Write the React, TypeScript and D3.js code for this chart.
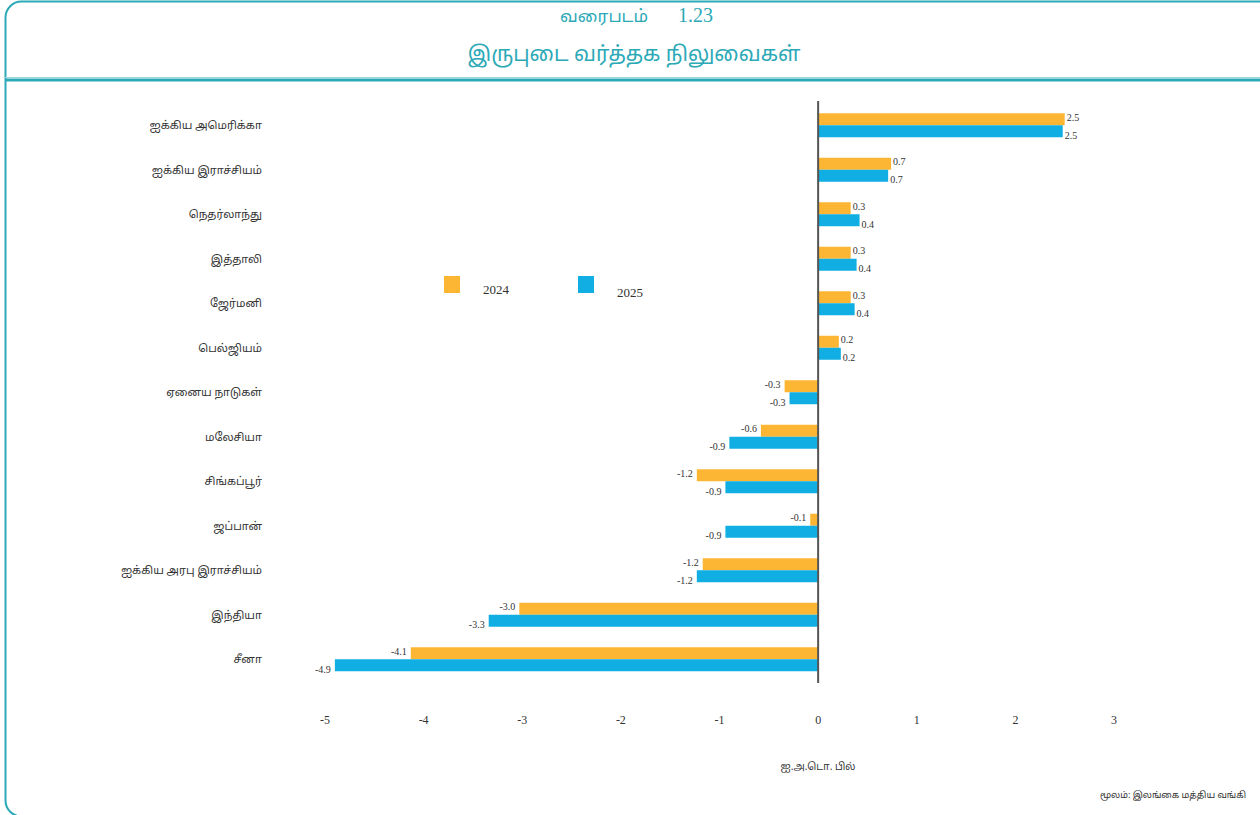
import React from "react";
import * as d3 from "d3";

const categories = [
  "ஐக்கிய அமெரிக்கா",
  "ஐக்கிய இராச்சியம்",
  "நெதர்லாந்து",
  "இத்தாலி",
  "ஜேர்மனி",
  "பெல்ஜியம்",
  "ஏனைய நாடுகள்",
  "மலேசியா",
  "சிங்கப்பூர்",
  "ஜப்பான்",
  "ஐக்கிய அரபு இராச்சியம்",
  "இந்தியா",
  "சீனா",
];
const values2024 = [2.5, 0.74, 0.33, 0.33, 0.33, 0.21, -0.34, -0.58, -1.23, -0.08, -1.17, -3.03, -4.13];
const values2025 = [2.48, 0.71, 0.42, 0.39, 0.37, 0.23, -0.29, -0.9, -0.94, -0.94, -1.23, -3.34, -4.9];
const seriesNames = ["2024", "2025"];
const seriesColors = ["#FDB633", "#10AEE3"];
const xTicks = [-5, -4, -3, -2, -1, 0, 1, 2, 3];

const TEAL = "#2CA9B7";
const SERIF = "'Liberation Serif', 'DejaVu Serif', serif";
const TAMIL = "'Noto Sans Tamil', 'Lohit Tamil', 'Noto Serif Tamil', 'Noto Sans', sans-serif";

export default function App() {
  const W = 1260, H = 815;
  const x = d3.scaleLinear().domain([-5, 3]).range([325, 1114]);
  const y = d3.scaleBand<string>().domain(categories).range([103, 681.5]).padding(0);
  const inner = d3.scaleBand<string>().domain(seriesNames).range([y.bandwidth() / 2 - 12, y.bandwidth() / 2 + 12]);
  const series = [values2024, values2025];
  const fmt = (v: number) => d3.format(".1f")(v).replace("\u2212", "-");

  return (
    <svg
      width={W}
      height={H}
      style={{ position: "absolute", left: 0, top: 0, display: "block", background: "#fff" }}
    >
      {/* frame */}
      <rect x={5.5} y={1.5} width={W + 40} height={815} rx={16} ry={16} fill="none" stroke={TEAL} strokeWidth={2} />
      <line x1={5} x2={W} y1={80} y2={80} stroke={TEAL} strokeWidth={3} />
      <line x1={5} x2={W} y1={77.5} y2={77.5} stroke="#9fd6dd" strokeWidth={1} />
      {/* titles */}
      <text x={648} y={22} textAnchor="end" fill={TEAL} fontFamily={TAMIL} fontSize={17}>
        வரைபடம்
      </text>
      <text x={678} y={22} textAnchor="start" fill={TEAL} fontFamily={SERIF} fontSize={20}>
        1.23
      </text>
      <text x={634} y={61} textAnchor="middle" fill={TEAL} fontFamily={TAMIL} fontSize={21}>
        இருபுடை வர்த்தக நிலுவைகள்
      </text>

      {/* bars */}
      {categories.map((c, i) => (
        <g key={c}>
          {series.map((vals, s) => {
            const v = vals[i];
            const y0 = (y(c) as number) + (inner(seriesNames[s]) as number);
            const h = inner.bandwidth();
            const x0 = Math.min(x(0), x(v));
            const w = Math.abs(x(v) - x(0));
            const ly = s === 0 ? y0 + h / 2 - 2 : y0 + h / 2 + 4;
            return (
              <g key={s}>
                <rect x={x0} y={y0} width={w} height={h} fill={seriesColors[s]} />
                <text
                  x={v >= 0 ? x(v) + 2 : x(v) - 4}
                  y={ly}
                  dy="0.35em"
                  textAnchor={v >= 0 ? "start" : "end"}
                  fontFamily={SERIF}
                  fontSize={10}
                  fill="#333"
                >
                  {fmt(v)}
                </text>
              </g>
            );
          })}
          <text
            x={262}
            y={(y(c) as number) + y.bandwidth() / 2}
            dy="0.35em"
            textAnchor="end"
            fontFamily={TAMIL}
            fontSize={11}
            fill="#333"
          >
            {c}
          </text>
        </g>
      ))}

      {/* zero line */}
      <line x1={x(0)} x2={x(0)} y1={101} y2={683} stroke="#555" strokeWidth={2} />

      {/* x tick labels */}
      {xTicks.map((t) => (
        <text key={t} x={x(t)} y={720} dy="0.35em" textAnchor="middle" fontFamily={SERIF} fontSize={12} fill="#333">
          {t}
        </text>
      ))}

      {/* legend */}
      {seriesNames.map((n, s) => (
        <g key={n}>
          <rect x={444 + s * 134} y={276} width={16} height={17} fill={seriesColors[s]} />
          <text x={483 + s * 134} y={289 + s * 3} dy="0.35em" fontFamily={SERIF} fontSize={13} fill="#333">
            {n}
          </text>
        </g>
      ))}

      {/* axis title & source */}
      <text x={818} y={766} dy="0.35em" textAnchor="middle" fontFamily={TAMIL} fontSize={10} fill="#333">
        ஐ.அ.டொ. பில்
      </text>
      <text x={1246} y={795} dy="0.35em" textAnchor="end" fontFamily={TAMIL} fontSize={9} fill="#333">
        மூலம்: இலங்கை மத்திய வங்கி
      </text>
    </svg>
  );
}
